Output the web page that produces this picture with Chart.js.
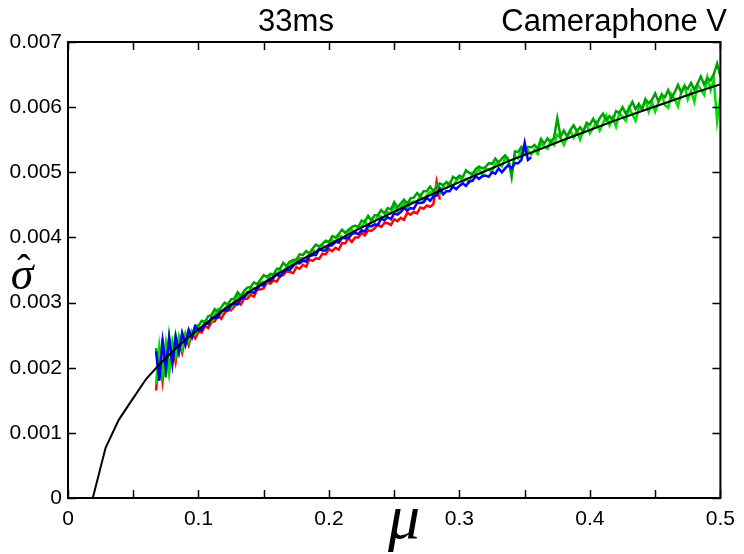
<!DOCTYPE html>
<html>
<head>
<meta charset="utf-8">
<script src="https://cdn.jsdelivr.net/npm/chart.js@4.4.1/dist/chart.umd.min.js"></script>
<style>
  html, body { margin: 0; background: #fff; }
  #wrap { width: 744px; height: 554px; }
</style>
</head>
<body>
<div id="wrap"><canvas id="myChart"></canvas></div>
<script>
// mu grid shared by the noisy channel curves
var muGrid = [0.0675,0.07,0.0725,0.075,0.0775,0.08,0.0825,0.085,0.0875,0.09,
  0.0925,0.095,0.0975,0.1,0.1025,0.105,0.1075,0.11,0.1125,0.115,
  0.1175,0.12,0.1225,0.125,0.1275,0.13,0.1325,0.135,0.1375,0.14,
  0.1425,0.145,0.1475,0.15,0.1525,0.155,0.1575,0.16,0.1625,0.165,
  0.1675,0.17,0.1725,0.175,0.1775,0.18,0.1825,0.185,0.1875,0.19,
  0.1925,0.195,0.1975,0.2,0.2025,0.205,0.2075,0.21,0.2125,0.215,
  0.2175,0.22,0.2225,0.225,0.2275,0.23,0.2325,0.235,0.2375,0.24,
  0.2425,0.245,0.2475,0.25,0.2525,0.255,0.2575,0.26,0.2625,0.265,
  0.2675,0.27,0.2725,0.275,0.2775,0.28,0.2825,0.285,0.2875,0.29,
  0.2925,0.295,0.2975,0.3,0.3025,0.305,0.3075,0.31,0.3125,0.315,
  0.3175,0.32,0.3225,0.325,0.3275,0.33,0.3325,0.335,0.3375,0.34,
  0.3425,0.345,0.3475,0.35,0.3525,0.355,0.3575,0.36,0.3625,0.365,
  0.3675,0.37,0.3725,0.375,0.3775,0.38,0.3825,0.385,0.3875,0.39,
  0.3925,0.395,0.3975,0.4,0.4025,0.405,0.4075,0.41,0.4125,0.415,
  0.4175,0.42,0.4225,0.425,0.4275,0.43,0.4325,0.435,0.4375,0.44,
  0.4425,0.445,0.4475,0.45,0.4525,0.455,0.4575,0.46,0.4625,0.465,
  0.4675,0.47,0.4725,0.475,0.4775,0.48,0.4825,0.485,0.4875,0.49,
  0.4925,0.495,0.4975,0.5];

// sigma-hat per channel
var redSigma = [165e-5,225e-5,180e-5,230e-5,195e-5,235e-5,209e-5,242e-5,223e-5,249e-5,
  235e-5,254e-5,245e-5,255e-5,254e-5,264e-5,261e-5,270e-5,271e-5,281e-5,
  275e-5,284e-5,289e-5,288e-5,294e-5,301e-5,297e-5,306e-5,306e-5,312e-5,
  309e-5,320e-5,320e-5,322e-5,331e-5,329e-5,334e-5,332e-5,341e-5,342e-5,
  348e-5,347e-5,345e-5,354e-5,352e-5,358e-5,355e-5,366e-5,364e-5,368e-5,
  367e-5,375e-5,374e-5,382e-5,379e-5,384e-5,381e-5,391e-5,391e-5,399e-5,
  393e-5,400e-5,400e-5,407e-5,403e-5,411e-5,410e-5,414e-5,420e-5,416e-5,
  422e-5,422e-5,419e-5,428e-5,425e-5,430e-5,427e-5,438e-5,435e-5,439e-5,
  437e-5,446e-5,444e-5,449e-5,447e-5,451e-5,485e-5,458e-5];

var blueSigma = [225e-5,180e-5,240e-5,200e-5,245e-5,205e-5,247e-5,224e-5,253e-5,235e-5,
  257e-5,246e-5,263e-5,258e-5,258e-5,267e-5,267e-5,277e-5,276e-5,277e-5,
  287e-5,288e-5,288e-5,297e-5,298e-5,297e-5,306e-5,307e-5,316e-5,316e-5,
  315e-5,321e-5,327e-5,326e-5,333e-5,333e-5,338e-5,344e-5,340e-5,346e-5,
  351e-5,350e-5,356e-5,361e-5,360e-5,364e-5,363e-5,371e-5,373e-5,373e-5,
  382e-5,380e-5,380e-5,387e-5,388e-5,394e-5,392e-5,399e-5,399e-5,399e-5,
  405e-5,407e-5,405e-5,411e-5,409e-5,418e-5,417e-5,420e-5,419e-5,429e-5,
  426e-5,431e-5,428e-5,437e-5,435e-5,439e-5,445e-5,441e-5,445e-5,444e-5,
  453e-5,453e-5,454e-5,461e-5,456e-5,463e-5,464e-5,475e-5,466e-5,471e-5,
  471e-5,478e-5,474e-5,479e-5,483e-5,479e-5,486e-5,487e-5,494e-5,490e-5,
  494e-5,495e-5,493e-5,500e-5,498e-5,506e-5,500e-5,506e-5,511e-5,506e-5,
  514e-5,514e-5,519e-5,545e-5,519e-5,523e-5];

var greenDarkSigma = [230e-5,185e-5,245e-5,185e-5,248e-5,210e-5,249e-5,224e-5,253e-5,237e-5,
  259e-5,248e-5,265e-5,264e-5,272e-5,270e-5,279e-5,281e-5,290e-5,285e-5,
  293e-5,300e-5,297e-5,305e-5,306e-5,316e-5,310e-5,318e-5,323e-5,324e-5,
  331e-5,328e-5,335e-5,342e-5,339e-5,344e-5,343e-5,352e-5,352e-5,361e-5,
  356e-5,363e-5,365e-5,366e-5,374e-5,373e-5,379e-5,375e-5,383e-5,389e-5,
  386e-5,390e-5,395e-5,393e-5,402e-5,400e-5,405e-5,412e-5,407e-5,412e-5,
  416e-5,418e-5,416e-5,426e-5,424e-5,433e-5,426e-5,434e-5,434e-5,442e-5,
  437e-5,445e-5,443e-5,454e-5,446e-5,452e-5,458e-5,452e-5,460e-5,461e-5,
  468e-5,463e-5,471e-5,471e-5,478e-5,471e-5,477e-5,483e-5,480e-5,485e-5,
  480e-5,493e-5,490e-5,495e-5,492e-5,503e-5,499e-5,497e-5,505e-5,509e-5,
  506e-5,508e-5,514e-5,513e-5,521e-5,515e-5,521e-5,526e-5,520e-5,493e-5,
  532e-5,531e-5,539e-5,533e-5,539e-5,538e-5,542e-5,536e-5,551e-5,544e-5,
  552e-5,546e-5,553e-5,583e-5,555e-5,564e-5,555e-5,565e-5,572e-5,563e-5,
  569e-5,562e-5,576e-5,573e-5,582e-5,573e-5,583e-5,590e-5,580e-5,586e-5,
  580e-5,594e-5,591e-5,600e-5,590e-5,598e-5,608e-5,597e-5,605e-5,597e-5,
  612e-5,606e-5,611e-5,621e-5,609e-5,619e-5,615e-5,626e-5,614e-5,623e-5,
  634e-5,622e-5,632e-5,628e-5,637e-5,627e-5,636e-5,647e-5,635e-5,644e-5,
  641e-5,651e-5,667e-5,647e-5];

var greenLightSigma = [175e-5,233e-5,192e-5,237e-5,192e-5,240e-5,217e-5,248e-5,229e-5,253e-5,
  240e-5,257e-5,251e-5,261e-5,260e-5,272e-5,271e-5,271e-5,282e-5,290e-5,
  284e-5,291e-5,297e-5,292e-5,303e-5,310e-5,306e-5,314e-5,311e-5,323e-5,
  321e-5,322e-5,331e-5,332e-5,330e-5,343e-5,342e-5,342e-5,351e-5,346e-5,
  355e-5,355e-5,365e-5,359e-5,368e-5,368e-5,365e-5,375e-5,381e-5,377e-5,
  383e-5,388e-5,383e-5,389e-5,396e-5,392e-5,403e-5,401e-5,398e-5,408e-5,
  412e-5,407e-5,417e-5,416e-5,425e-5,416e-5,426e-5,424e-5,433e-5,432e-5,
  427e-5,439e-5,437e-5,448e-5,439e-5,446e-5,453e-5,443e-5,454e-5,455e-5,
  454e-5,465e-5,457e-5,465e-5,470e-5,466e-5,479e-5,467e-5,477e-5,476e-5,
  484e-5,478e-5,487e-5,493e-5,485e-5,490e-5,485e-5,499e-5,498e-5,505e-5,
  496e-5,505e-5,504e-5,501e-5,514e-5,512e-5,509e-5,522e-5,517e-5,497e-5,
  525e-5,521e-5,532e-5,527e-5,534e-5,527e-5,535e-5,528e-5,545e-5,539e-5,
  536e-5,549e-5,542e-5,558e-5,553e-5,542e-5,554e-5,564e-5,553e-5,564e-5,
  550e-5,565e-5,574e-5,560e-5,568e-5,577e-5,564e-5,575e-5,587e-5,572e-5,
  584e-5,570e-5,591e-5,585e-5,579e-5,599e-5,589e-5,579e-5,599e-5,597e-5,
  611e-5,593e-5,608e-5,593e-5,607e-5,619e-5,603e-5,599e-5,620e-5,612e-5,
  601e-5,623e-5,633e-5,612e-5,625e-5,608e-5,634e-5,627e-5,619e-5,646e-5,
  626e-5,642e-5,578e-5,615e-5];

// black fitted curve
var fitMu = [0,0.019,0.0288,0.0389,0.0482,0.06,0.07,0.08,0.09,0.1,0.12,0.14,0.16,0.18,0.2,
  0.22,0.24,0.26,0.28,0.3,0.32,0.34,0.36,0.38,0.4,0.42,0.44,0.46,0.48,0.5];
var fitSigma = [0,0,0.00077,0.0012,0.00148,0.00183,0.00205,0.00225,0.00243,0.00259,0.0029,0.00318,0.00343,0.00367,0.00389,
  0.0041,0.0043,0.00449,0.00467,0.00485,0.00502,0.00519,0.00534,0.0055,0.00565,0.0058,0.00594,0.00608,0.00622,0.00635];

// ticks
var xTickValues = [0,0.05,0.1,0.15,0.2,0.25,0.3,0.35,0.4,0.45,0.5];
var xTickLabels = ['0','','0.1','','0.2','','0.3','','0.4','','0.5'];
var yTickValues = [0,0.001,0.002,0.003,0.004,0.005,0.006,0.007];
var yTickLabels = ['0','0.001','0.002','0.003','0.004','0.005','0.006','0.007'];

function pairs(xs, ys) {
  return ys.map(function (y, i) { return { x: xs[i], y: y }; });
}

function lineSet(label, ys, xs, color, width, order) {
  return {
    label: label,
    data: pairs(xs, ys),
    borderColor: color,
    borderWidth: width,
    pointRadius: 0,
    tension: 0,
    order: order
  };
}

// box, inward ticks, titles and axis symbols
var framePlugin = {
  id: 'frame',
  afterDraw: function (chart) {
    var ctx = chart.ctx;
    var a = chart.chartArea;
    var xs = chart.scales.x, ys = chart.scales.y;
    ctx.save();
    ctx.strokeStyle = '#000';
    ctx.lineWidth = 1.5;
    ctx.beginPath();
    xTickValues.forEach(function (v) {
      var px = Math.round(xs.getPixelForValue(v)) + 0.5;
      ctx.moveTo(px, a.bottom); ctx.lineTo(px, a.bottom - 8);
      ctx.moveTo(px, a.top); ctx.lineTo(px, a.top + 8);
    });
    yTickValues.forEach(function (v) {
      var py = Math.round(ys.getPixelForValue(v)) + 0.5;
      ctx.moveTo(a.left, py); ctx.lineTo(a.left + 8, py);
      ctx.moveTo(a.right, py); ctx.lineTo(a.right - 8, py);
    });
    ctx.stroke();
    ctx.lineWidth = 2;
    ctx.strokeRect(a.left, a.top, a.right - a.left, a.bottom - a.top);

    ctx.fillStyle = '#000';
    ctx.textBaseline = 'alphabetic';
    ctx.font = '31px "Liberation Sans", Arial, sans-serif';
    ctx.textAlign = 'center';
    ctx.fillText('33ms', 296, 31);
    ctx.textAlign = 'right';
    ctx.fillText('Cameraphone V', 727, 31);

    ctx.textAlign = 'center';
    ctx.font = 'italic 64px "Liberation Serif", serif';
    ctx.fillText('\u03bc', 404, 538);
    ctx.font = 'italic 46px "Liberation Serif", serif';
    ctx.fillText('\u03c3', 22, 289);
    ctx.font = '40px "Liberation Serif", serif';
    ctx.fillText('\u02c6', 24, 282);
    ctx.restore();
  }
};

var ctx = document.getElementById('myChart').getContext('2d');
var myChart = new Chart(ctx, {
  type: 'line',
  data: {
    datasets: [
      lineSet('fit', fitSigma, fitMu, '#000000', 2, 0),
      lineSet('B', blueSigma, muGrid, '#0000ff', 2.5, 1),
      lineSet('G1', greenDarkSigma, muGrid, '#00a000', 2.5, 2),
      lineSet('G2', greenLightSigma, muGrid, '#00e000', 2.5, 3),
      lineSet('R', redSigma, muGrid, '#ff0000', 2.5, 4)
    ]
  },
  plugins: [framePlugin],
  options: {
    responsive: true,
    maintainAspectRatio: false,
    animation: false,
    layout: { padding: { top: 42, right: 16, left: 0, bottom: 0 } },
    plugins: { legend: { display: false }, tooltip: { enabled: false } },
    scales: {
      x: {
        type: 'linear',
        min: 0,
        max: 0.5,
        afterBuildTicks: function (s) { s.ticks = xTickValues.map(function (v) { return { value: v }; }); },
        afterFit: function (s) { s.height = 56; },
        grid: { display: false, drawTicks: false },
        border: { display: false },
        ticks: {
          autoSkip: false,
          maxRotation: 0,
          padding: 9,
          color: '#000',
          font: { family: '"Liberation Sans", Arial, sans-serif', size: 21 },
          callback: function (v, i) { return xTickLabels[i]; }
        }
      },
      y: {
        min: 0,
        max: 0.007,
        afterBuildTicks: function (s) { s.ticks = yTickValues.map(function (v) { return { value: v }; }); },
        afterFit: function (s) { s.width = 68; },
        grid: { display: false, drawTicks: false },
        border: { display: false },
        ticks: {
          autoSkip: false,
          padding: 6,
          color: '#000',
          font: { family: '"Liberation Sans", Arial, sans-serif', size: 21 },
          callback: function (v, i) { return yTickLabels[i]; }
        }
      }
    }
  }
});
</script>
</body>
</html>
